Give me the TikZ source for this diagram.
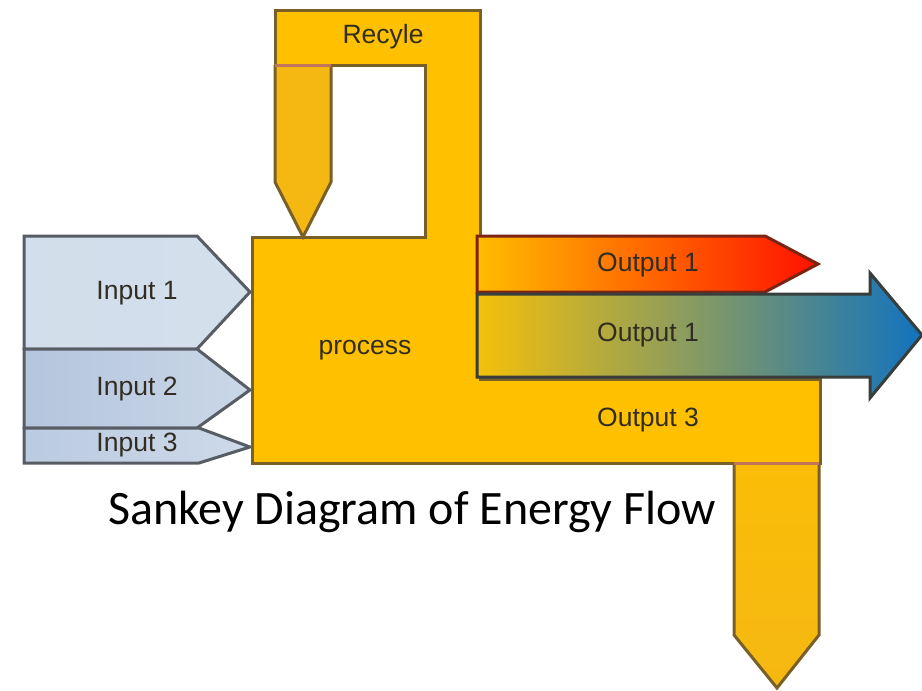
\documentclass[tikz,border=0pt]{standalone}
\usepackage{fontspec}
\setmainfont{Liberation Sans}
\newfontfamily\titlefont{Carlito}

\definecolor{flowyellow}{RGB}{255,192,0}
\definecolor{flowedge}{RGB}{120,96,40}
\definecolor{arrowgold}{RGB}{245,184,18}
\definecolor{seamline}{RGB}{192,116,92}
\definecolor{inedge}{RGB}{88,92,100}
\definecolor{inlight}{RGB}{212,223,236}
\definecolor{inmid}{RGB}{180,197,221}
\definecolor{outred}{RGB}{255,18,0}
\definecolor{outorange}{RGB}{255,128,0}
\definecolor{outolive}{RGB}{150,160,92}
\definecolor{outblue}{RGB}{18,115,190}
\definecolor{labelgray}{RGB}{50,45,35}

\begin{document}
\begin{tikzpicture}[x=1pt, y=-1pt,
		band/.style={draw=flowedge, line width=3pt, line join=miter, fill=flowyellow},
		goldarrow/.style={draw=flowedge, line width=3pt, line join=miter, fill=arrowgold},
		inband/.style={draw=inedge, line width=3pt, line join=miter},
		seam/.style={draw=seamline, line width=3pt},
		lbl/.style={font=\fontsize{26.5}{30}\selectfont, text=labelgray},
		]
		\useasboundingbox (0,0) rectangle (922,691);
		
		% inputs
		\path[inband, left color=inlight!95!inmid, right color=inlight]
			(24,236) -- (197,236) -- (250,292) -- (197,349) -- (24,349) -- cycle;
		\path[inband, left color=inmid, right color=inlight!70!inmid]
			(24,349) -- (197,349) -- (250,390) -- (197,428) -- (24,428) -- cycle;
		\path[inband, left color=inmid!80!inlight, right color=inlight!80!inmid]
			(24,428) -- (199,428) -- (250,447) -- (199,463) -- (24,463) -- cycle;
		
		% process block with recycle loop and output 3
		\path[band] (252,463) -- (252,237) -- (425,237) -- (425,65) -- (275,65)
			-- (275,10) -- (480,10) -- (480,379) -- (820,379) -- (820,463) -- cycle;
		
		% recycle arrow back into the process
		\path[goldarrow] (275,65) -- (275,182) -- (303,237) -- (331,182) -- (331,65);
		\draw[seam] (275,65) -- (331,65);
		
		% output 3 going down
		\path[goldarrow, top color=flowyellow!60!arrowgold, bottom color=arrowgold]
			(734,463) -- (734,635) -- (777,688) -- (819,635) -- (819,463);
		\draw[seam] (734,463) -- (819,463);
		
		% output 1 (red) and output 2 (blue)
		\path[draw={rgb,255:red,125;green,35;blue,20}, line width=3pt, line join=miter,
			left color={rgb,255:red,255;green,188;blue,0}, middle color=outorange, right color=outred]
			(477,236) -- (765,236) -- (818,264) -- (765,292) -- (477,292) -- cycle;
		\path[draw={rgb,255:red,55;green,62;blue,60}, line width=3pt, line join=miter,
			left color={rgb,255:red,245;green,192;blue,10}, middle color=outolive, right color=outblue]
			(477,294) -- (870,294) -- (870,273) -- (922,335) -- (870,398) -- (870,377)
			-- (477,377) -- cycle;
		
		\node[lbl] (recycle) at (383,37)  {Recyle};
		\node[lbl] (in1)     at (137,293) {Input 1};
		\node[lbl] (in2)     at (137,389) {Input 2};
		\node[lbl] (in3)     at (137,445) {Input 3};
		\node[lbl] (proc)    at (365,350) {process};
		\node[lbl] (out1)    at (648,265) {Output 1};
		\node[lbl] (out2)    at (648,335) {Output 1};
		\node[lbl] (out3)    at (648,420) {Output 3};
		
		\node[font=\titlefont\fontsize{48}{56}\selectfont] (title) at (412,512)
			{Sankey Diagram of Energy Flow};
		
	\end{tikzpicture}
\end{document}
